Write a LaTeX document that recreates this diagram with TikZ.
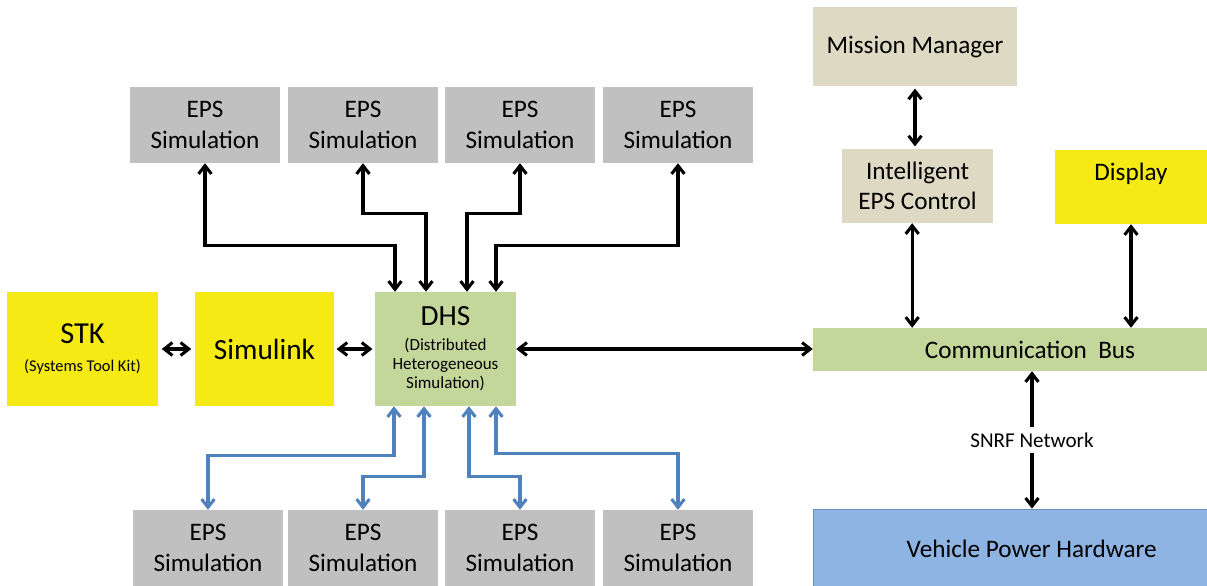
\documentclass[tikz,border=0pt]{standalone}
\usepackage{xcolor}
\usepackage{fontspec}
\setmainfont{Carlito}
\usepackage{tikz}
\usetikzlibrary{arrows.meta}

\definecolor{epsgray}{HTML}{C0C0C0}
\definecolor{yell}{HTML}{F5EA14}
\definecolor{dhsgreen}{HTML}{C4D79B}
\definecolor{beige}{HTML}{DDD9C3}
\definecolor{hwblue}{HTML}{8DB4E2}
\definecolor{hwedge}{HTML}{6A8FC0}
\definecolor{linkblue}{HTML}{4F81BD}

\begin{document}
\begin{tikzpicture}[inner sep=1pt,>={Straight Barb[length=7pt,width=11pt,line width=2.6pt]},
  box/.style={rectangle,align=center,font=\fontsize{21.5}{26}\selectfont},
  eps/.style={box,fill=epsgray,minimum width=4.5cm,minimum height=2.28cm},
  blk/.style={<->,line width=2.6pt,black},
  blu/.style={<->,line width=2.6pt,linkblue}]
\useasboundingbox (0,0) rectangle (36.21,-17.55);

\node[eps] (T1) at (6.15,-3.75) {EPS\\Simulation};
\node[eps] (T2) at (10.89,-3.75) {EPS\\Simulation};
\node[eps] (T3) at (15.6,-3.75) {EPS\\Simulation};
\node[eps] (T4) at (20.34,-3.75) {EPS\\Simulation};

\node[eps] (B1) at (6.24,-16.44) {EPS\\Simulation};
\node[eps] (B2) at (10.89,-16.44) {EPS\\Simulation};
\node[eps] (B3) at (15.6,-16.44) {EPS\\Simulation};
\node[eps] (B4) at (20.34,-16.44) {EPS\\Simulation};

\node[box,fill=yell,minimum width=4.53cm,minimum height=3.42cm,font=\fontsize{14}{18}\selectfont] (STK) at (2.475,-10.47)
  {{\fontsize{26}{28}\selectfont STK}\\[6pt](Systems Tool Kit)};
\node[box,fill=yell,minimum width=4.17cm,minimum height=3.42cm,font=\fontsize{25}{28}\selectfont] (SIM) at (7.935,-10.47) {Simulink};
\node[box,fill=dhsgreen,minimum width=4.23cm,minimum height=3.42cm,font=\fontsize{14.5}{16.5}\selectfont] (DHS) at (13.365,-10.47)
  {{\fontsize{25}{28}\selectfont DHS}\\[4pt](Distributed\\Heterogeneous\\Simulation)};

\node[box,fill=beige,minimum width=6.12cm,minimum height=2.37cm] (MM) at (27.45,-1.395) {Mission Manager};
\node[box,fill=beige,minimum width=4.53cm,minimum height=2.22cm] (IEC) at (27.525,-5.58) {Intelligent\\EPS Control};
\node[box,fill=yell,minimum width=4.56cm,minimum height=2.22cm] (DISP) at (33.93,-5.61) {Display\\\mbox{}};
\node[box,fill=dhsgreen,minimum width=11.82cm,minimum height=1.29cm] (BUS) at (30.3,-10.485) {\hspace*{1.2cm}Communication\ \ Bus};
\node[box,fill=hwblue,draw=hwedge,line width=0.6pt,minimum width=11.82cm,minimum height=2.4cm] (VPH) at (30.3,-16.47) {\hspace*{1.3cm}Vehicle Power Hardware};

\draw[blk] (T1.south) -- ++(0,-2.46) -| ([xshift=-1.515cm]DHS.north);
\draw[blk] (T2.south) -- ++(0,-1.5) -| ([xshift=-0.585cm]DHS.north);
\draw[blk] (T3.south) -- ++(0,-1.5) -| ([xshift=0.645cm]DHS.north);
\draw[blk] (T4.south) -- ++(0,-2.46) -| ([xshift=1.515cm]DHS.north);

\draw[blu] ([xshift=-1.545cm]DHS.south) -- ++(0,-1.47) -| (B1.north);
\draw[blu] ([xshift=-0.645cm]DHS.south) -- ++(0,-2.1) -| (B2.north);
\draw[blu] ([xshift=0.705cm]DHS.south) -- ++(0,-2.1) -| (B3.north);
\draw[blu] ([xshift=1.515cm]DHS.south) -- ++(0,-1.41) -| (B4.north);

\draw[blk,shorten <=3pt,shorten >=3pt] (STK) -- (SIM);
\draw[blk,shorten <=2pt,shorten >=2pt] (SIM) -- (DHS);
\draw[blk] (DHS) -- (BUS.west |- DHS);

\draw[blk,shorten <=2pt,shorten >=2pt] (MM.south) -- (MM.south |- IEC.north);
\draw[blk] ([xshift=-0.16cm]IEC.south) -- ([xshift=-0.16cm]IEC.south |- BUS.north);
\draw[blk] (DISP.south) -- (DISP.south |- BUS.north);
\draw[blk] ([xshift=0.66cm]BUS.south) -- node[fill=white,inner sep=5pt,font=\fontsize{18}{21}\selectfont]{SNRF Network} ([xshift=0.66cm]BUS.south |- VPH.north);
\end{tikzpicture}
\end{document}
